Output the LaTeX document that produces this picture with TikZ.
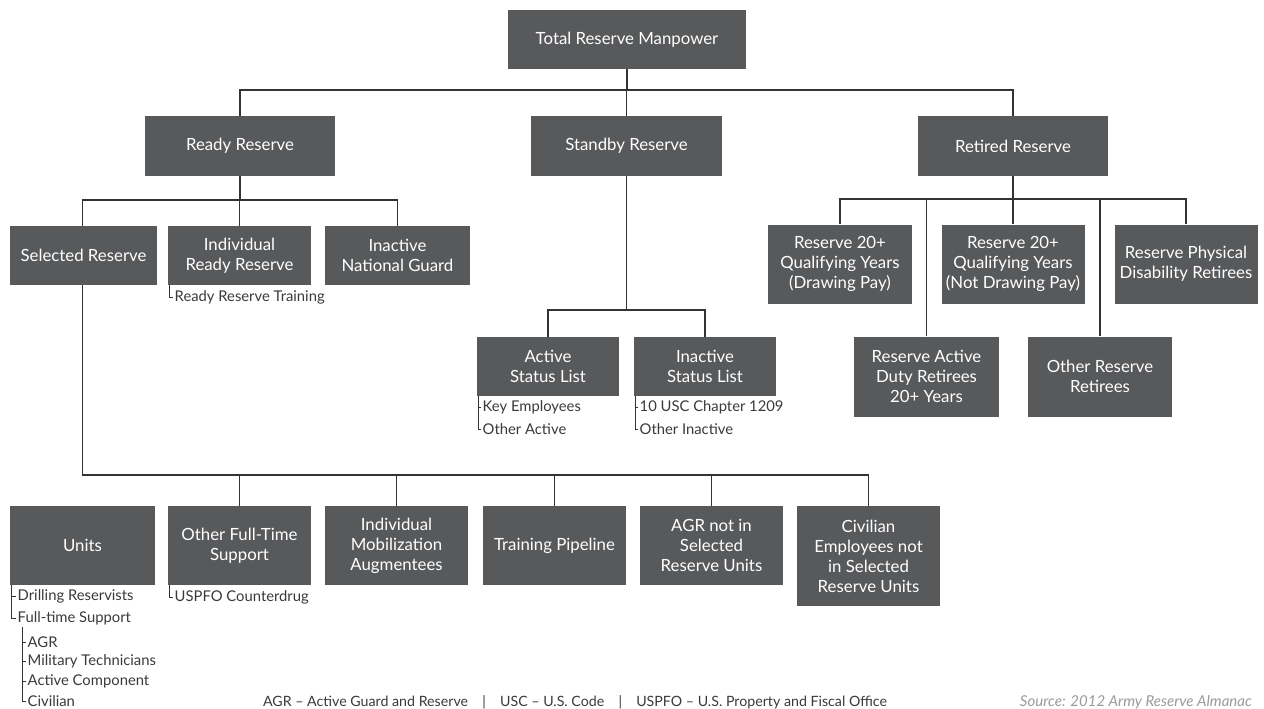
\documentclass[tikz,border=0pt]{standalone}
\usepackage{fontspec}
\setmainfont{Lato}
\definecolor{boxgray}{HTML}{58595B}
\definecolor{linegray}{HTML}{333333}
\definecolor{textgray}{HTML}{3A3A3A}
\definecolor{srcgray}{HTML}{9A9A9A}
\begin{document}
\begin{tikzpicture}[x=1pt,y=-1pt,
  box/.style={fill=boxgray,text=white,align=center,inner sep=2pt,
    font=\fontsize{16.8}{20}\selectfont},
  conn/.style={draw=linegray,line width=1.4pt},
  item/.style={anchor=west,inner sep=1.5pt,text=textgray,font=\fontsize{14.8}{16}\selectfont},
  brk/.style={draw=linegray,line width=0.8pt}]
\useasboundingbox (0,0) rectangle (1264,709);
% level 0
\node[box,minimum width=238pt,minimum height=59pt] (total) at (627,39.5) {Total Reserve Manpower};
% level 1
\node[box,minimum width=190pt,minimum height=60pt] (ready) at (240,146) {Ready Reserve};
\node[box,minimum width=191pt,minimum height=60pt] (standby) at (626.5,146) {Standby Reserve};
\node[box,minimum width=190pt,minimum height=60pt] (retired) at (1013,146) {Retired Reserve};
% ready children
\node[box,minimum width=147pt,minimum height=59pt] (selected) at (83.5,255.5) {Selected Reserve};
\node[box,minimum width=143pt,minimum height=59pt] (irr) at (239.5,255.5) {Individual\\Ready Reserve};
\node[box,minimum width=145pt,minimum height=59pt] (ing) at (397.5,255.5) {Inactive\\National Guard};
% standby children
\node[box,minimum width=142pt,minimum height=59pt] (asl) at (548,366.5) {Active\\Status List};
\node[box,minimum width=142pt,minimum height=59pt] (isl) at (705,366.5) {Inactive\\Status List};
% retired children
\node[box,minimum width=144pt,minimum height=79pt] (rdp) at (840,264) {Reserve 20+\\Qualifying Years\\(Drawing Pay)};
\node[box,minimum width=143pt,minimum height=79pt] (rndp) at (1013,264) {Reserve 20+\\Qualifying Years\\(Not Drawing Pay)};
\node[box,minimum width=143pt,minimum height=79pt] (phys) at (1186,264) {Reserve Physical\\Disability Retirees};
\node[box,minimum width=145pt,minimum height=80pt] (radr) at (926.5,376.5) {Reserve Active\\Duty Retirees\\20+ Years};
\node[box,minimum width=144pt,minimum height=80pt] (orr) at (1100,376.5) {Other Reserve\\Retirees};
% selected children
\node[box,minimum width=145pt,minimum height=79pt] (units) at (82.5,545.5) {Units};
\node[box,minimum width=143pt,minimum height=79pt] (oft) at (239.5,545.5) {Other Full-Time\\Support};
\node[box,minimum width=143pt,minimum height=79pt] (ima) at (396.5,545.5) {Individual\\Mobilization\\Augmentees};
\node[box,minimum width=143pt,minimum height=79pt] (tp) at (554.5,545.5) {Training Pipeline};
\node[box,minimum width=143pt,minimum height=79pt] (agrn) at (711.5,545.5) {AGR not in\\Selected\\Reserve Units};
\node[box,minimum width=143pt,minimum height=100pt] (civ) at (868.5,556) {Civilian\\Employees not\\in Selected\\Reserve Units};
% buses
\coordinate (busA) at (0,90);
\coordinate (busB) at (0,200);
\coordinate (busC) at (0,310);
\coordinate (busD) at (0,199);
\coordinate (busE) at (0,475);
% connectors level 0-1
\draw[conn] (total.south) -- (total.south|-busA);
\draw[conn] (ready.north) -- (ready.north|-busA) -- (retired.north|-busA) -- (retired.north);
\draw[conn] (standby.north) -- (standby.north|-busA);
% ready
\draw[conn] (ready.south) -- (ready.south|-busB);
\draw[conn] (selected.north-|units.north) -- (units.north|-busB) -- (ing.north|-busB) -- (ing.north);
\draw[conn] (irr.north) -- (irr.north|-busB);
% standby
\draw[conn] (standby.south) -- (standby.south|-busC);
\draw[conn] (asl.north) -- (asl.north|-busC) -- (isl.north|-busC) -- (isl.north);
% retired
\draw[conn] (retired.south) -- (retired.south|-busD);
\draw[conn] (rdp.north) -- (rdp.north|-busD) -- (phys.north|-busD) -- (phys.north);
\draw[conn] (radr.north) -- (radr.north|-busD);
\draw[conn] (rndp.north) -- (rndp.north|-busD);
\draw[conn] (orr.north) -- (orr.north|-busD);
% selected
\draw[conn] (selected.south-|units.north) -- (units.north|-busE) -- (civ.north|-busE) -- (civ.north);
\draw[conn] (oft.north) -- (oft.north|-busE);
\draw[conn] (ima.north) -- (ima.north|-busE);
\draw[conn] (tp.north) -- (tp.north|-busE);
\draw[conn] (agrn.north) -- (agrn.north|-busE);
% sublists
\node[item] (rrt) at (173,297) {Ready Reserve Training};
\draw[brk] ([xshift=1.5pt]irr.south west) |- (rrt.west);
\node[item] (ke) at (481,407) {Key Employees};
\node[item] (oa) at (481,429) {Other Active};
\draw[brk] ([xshift=1.5pt]asl.south west) |- (ke.west);
\draw[brk] ([xshift=1.5pt]asl.south west) |- (oa.west);
\node[item] (usc) at (638,407) {10 USC Chapter 1209};
\node[item] (oi) at (638,429) {Other Inactive};
\draw[brk] ([xshift=1.5pt]isl.south west) |- (usc.west);
\draw[brk] ([xshift=1.5pt]isl.south west) |- (oi.west);
\node[item] (uspfo) at (173,597) {USPFO Counterdrug};
\draw[brk] ([xshift=1.5pt]oft.south west) |- (uspfo.west);
\node[item] (drill) at (16,596) {Drilling Reservists};
\node[item] (fts) at (16,618) {Full-time Support};
\draw[brk] ([xshift=2pt]units.south west) |- (drill.west);
\draw[brk] ([xshift=2pt]units.south west) |- (fts.west);
\coordinate (nest) at (22,627);
\node[item] (agr) at (26,642) {AGR};
\node[item] (mt) at (26,661) {Military Technicians};
\node[item] (ac) at (26,681) {Active Component};
\node[item] (cv) at (26,701) {Civilian};
\draw[brk] (nest) |- (agr.west);
\draw[brk] (nest) |- (mt.west);
\draw[brk] (nest) |- (ac.west);
\draw[brk] (nest) |- (cv.west);
% footer
\node[text=textgray,font=\fontsize{14.2}{16}\selectfont,inner sep=0pt] (legend) at (575,702)
  {AGR -- Active Guard and Reserve\quad|\quad USC -- U.S. Code\quad|\quad USPFO -- U.S. Property and Fiscal Office};
\node[text=srcgray,font=\fontsize{15}{16}\selectfont\itshape,anchor=east,inner sep=0pt] (source) at (1252,702)
  {Source: 2012 Army Reserve Almanac};
\end{tikzpicture}
\end{document}
